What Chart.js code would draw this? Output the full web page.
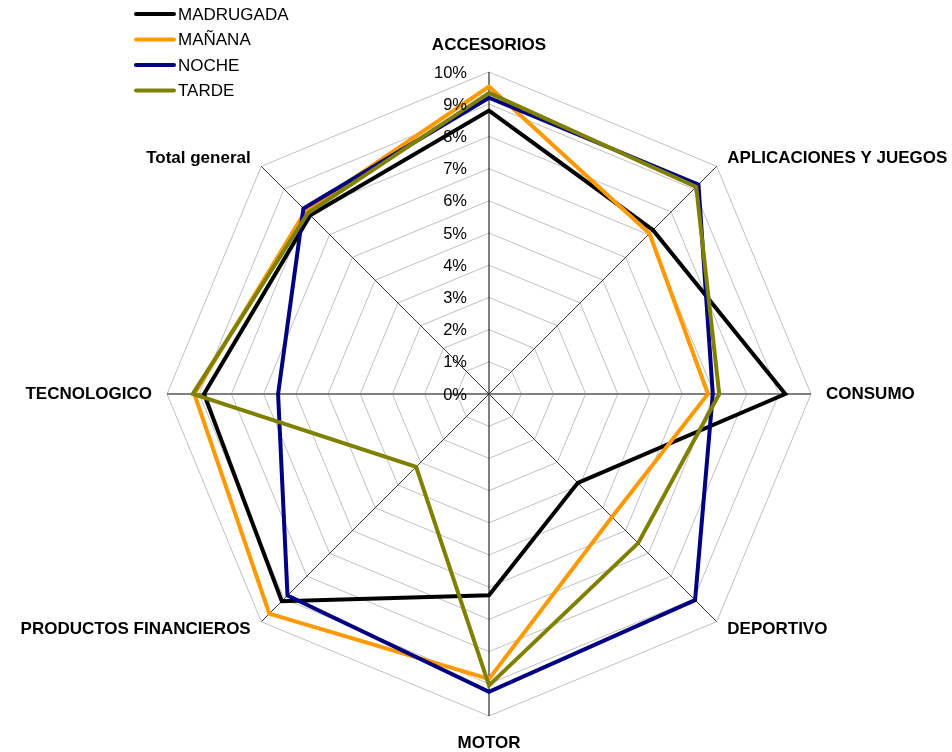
<!DOCTYPE html>
<html>
<head>
<meta charset="utf-8">
<script src="https://cdn.jsdelivr.net/npm/chart.js@4/dist/chart.umd.min.js"></script>
<style>
  html, body { margin: 0; padding: 0; background: #fff; }
  canvas { display: block; }
</style>
</head>
<body>
<canvas id="radar" width="952" height="752"></canvas>
<script>
// categorias del grafico radial
const categorias = ["ACCESORIOS", "APLICACIONES Y JUEGOS", "CONSUMO", "DEPORTIVO", "MOTOR", "PRODUCTOS FINANCIEROS", "TECNOLOGICO", "Total general"];

// porcentaje por franja horaria
const madrugada = [8.8, 7.2, 9.2, 3.9, 6.25, 9.1, 8.85, 7.85];
const manana = [9.55, 7.05, 6.8, 5.4, 8.85, 9.65, 9.15, 8.05];
const noche = [9.2, 9.2, 6.95, 9.05, 9.25, 8.85, 6.55, 8.15];
const tarde = [9.35, 9.1, 7.15, 6.55, 9.05, 3.2, 9.2, 7.95];

const ticksPct = [0, 1, 2, 3, 4, 5, 6, 7, 8, 9, 10];

const FONT = "'Liberation Sans', Arial, sans-serif";

const series = [
    { label: "MADRUGADA", data: madrugada, color: "#000000" },
    { label: "MAÑANA", data: manana, color: "#FF9900" },
    { label: "NOCHE", data: noche, color: "#000080" },
    { label: "TARDE", data: tarde, color: "#808000" }
];

// etiquetas de ejes, escala y leyenda dibujadas a mano
const extras = {
    id: "extras",
    afterDraw(chart) {
        const ctx = chart.ctx;
        const scale = chart.scales.r;
        const R = scale.drawingArea;

        ctx.save();
        // etiquetas de porcentaje junto al eje vertical
        ctx.font = "16.5px " + FONT;
        ctx.fillStyle = "#000";
        ctx.textAlign = "right";
        ctx.textBaseline = "middle";
        ticksPct.forEach((v) => {
            const y = scale.yCenter - scale.getDistanceFromCenterForValue(v);
            ctx.fillText(v + "%", scale.xCenter - 22, y + 1);
        });

        // nombres de categoria
        ctx.font = "bold 17px " + FONT;
        categorias.forEach((name, i) => {
            const p = scale.getPointPosition(i, R);
            const a = p.angle;
            const c = Math.cos(a), s = Math.sin(a);
            let align = "center";
            if (c > 0.1) align = "left";
            else if (c < -0.1) align = "right";
            const dy = Math.abs(c) < 0.1 ? 27 : 11;
            ctx.textAlign = align;
            ctx.fillText(name, p.x + c * 15, p.y + s * dy);
        });

        // leyenda
        ctx.font = "17px " + FONT;
        ctx.textAlign = "left";
        chart.data.datasets.forEach((ds, i) => {
            const y = 14 + i * 25.5;
            ctx.strokeStyle = ds.borderColor;
            ctx.lineWidth = 4;
            ctx.lineCap = "round";
            ctx.beginPath();
            ctx.moveTo(136, y);
            ctx.lineTo(174, y);
            ctx.stroke();
            ctx.fillStyle = "#000";
            ctx.fillText(ds.label, 178, y + 1);
        });
        ctx.restore();
    }
};

new Chart(document.getElementById("radar"), {
    type: "radar",
    data: {
        labels: categorias,
        datasets: series.map((s, i) => ({
            label: s.label,
            data: s.data,
            borderColor: s.color,
            backgroundColor: "transparent",
            borderWidth: 4,
            pointRadius: 0,
            tension: 0,
            fill: false,
            order: series.length - i
        }))
    },
    options: {
        responsive: false,
        animation: false,
        layout: { padding: { left: 167, top: 72, right: 141, bottom: 36 } },
        plugins: {
            legend: { display: false },
            tooltip: { enabled: false }
        },
        scales: {
            r: {
                min: 0,
                max: 10,
                ticks: { display: false, stepSize: 1 },
                pointLabels: { display: false },
                grid: { color: "#c0c0c0", lineWidth: 1 },
                angleLines: {
                    color: (ctx) => ctx.index === 2 || ctx.index === 6 ? "#808080" : (ctx.index === 0 || ctx.index === 4 ? "#000000" : "#333333"),
                    lineWidth: (ctx) => ctx.index === 2 || ctx.index === 6 ? 2 : 1
                }
            }
        }
    },
    plugins: [extras]
});
</script>
</body>
</html>
